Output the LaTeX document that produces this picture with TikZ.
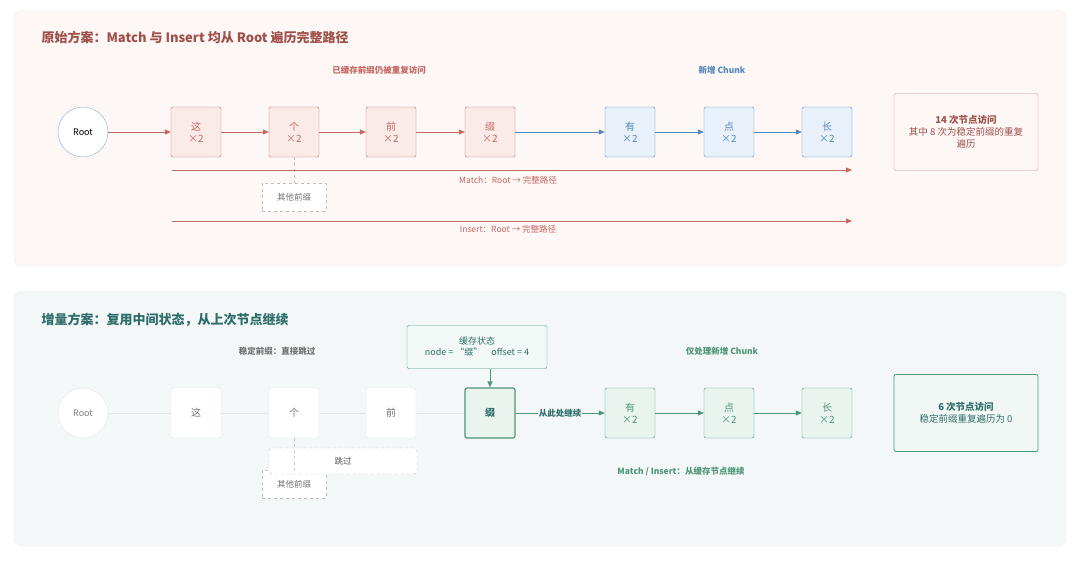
\documentclass[tikz,border=0pt]{standalone}
\usepackage{fontspec}
\setmainfont{Noto Sans CJK SC}
\usepackage{xcolor}
\definecolor{old-red}{RGB}{196,104,98}
\definecolor{old-fill}{RGB}{250,234,232}
\definecolor{old-title}{RGB}{160,80,74}
\definecolor{new-blue}{RGB}{84,136,190}
\definecolor{new-bluefill}{RGB}{232,240,249}
\definecolor{inc-green}{RGB}{78,150,120}
\definecolor{inc-fill}{RGB}{234,244,239}
\definecolor{inc-title}{RGB}{46,110,106}
\definecolor{inc-panel}{RGB}{243,247,248}
\definecolor{faded}{RGB}{222,228,232}
\usetikzlibrary{positioning,arrows.meta}

\tikzset{
	panel/.style={rounded corners=8pt,draw=black!8},
	cell/.style={draw,rounded corners=2pt,minimum width=50pt,minimum height=50pt,
		inner sep=1pt,align=center,font=\fontsize{10}{12}\selectfont},
	oldcell/.style={cell,draw=old-red,fill=old-fill,text=old-red},
	bluecell/.style={cell,draw=new-blue,fill=new-bluefill,text=new-blue},
	greencell/.style={cell,draw=inc-green,fill=inc-fill,text=inc-green},
	fadecell/.style={cell,draw=faded,fill=white,text=black!55},
	tag/.style={font=\fontsize{8.5}{10}\selectfont},
	btag/.style={font=\fontsize{8.5}{10}\selectfont\bfseries},
	dashbox/.style={draw=black!25,dashed,fill=white,tag,text=black!55},
	summary/.style={draw,rounded corners=2pt,minimum width=144pt,minimum height=77pt,
		align=center,font=\fontsize{9.5}{12}\selectfont},
}

\begin{document}
\begin{tikzpicture}[x=1pt,y=-1pt,>={Triangle[length=6pt,width=5pt]}]
	\useasboundingbox (0,0) rectangle (1080,562);
	
	% ===== top panel =====
	\draw[panel,fill=old-fill!40] (14,10) rectangle (1066,266);
	\node[anchor=west,text=old-title,font=\fontsize{13}{15}\selectfont\bfseries] (T1) at (38,38)
	{原始方案：Match 与 Insert 均从 Root 遍历完整路径};
	\node[btag,text=old-red] (L1) at (379,70) {已缓存前缀仍被重复访问};
	\node[btag,text=new-blue] (L2) at (722,70) {新增 Chunk};
	
	\node[circle,draw=new-blue!70,fill=white,minimum size=50pt,font=\fontsize{9}{10}\selectfont] (R1) at (83,132) {Root};
	\node[oldcell] (A1) at (196,132) {这\\×2};
	\node[oldcell] (A2) at (294,132) {个\\×2};
	\node[oldcell] (A3) at (391,132) {前\\×2};
	\node[oldcell] (A4) at (490,132) {缀\\×2};
	\node[bluecell] (A5) at (630,132) {有\\×2};
	\node[bluecell] (A6) at (729,132) {点\\×2};
	\node[bluecell] (A7) at (827,132) {长\\×2};
	
	\draw[->,old-red,thick] (R1) -- (A1);
	\draw[->,old-red,thick] (A1) -- (A2);
	\draw[->,old-red,thick] (A2) -- (A3);
	\draw[->,old-red,thick] (A3) -- (A4);
	\draw[->,new-blue,thick] (A4) -- (A5);
	\draw[->,new-blue,thick] (A5) -- (A6);
	\draw[->,new-blue,thick] (A6) -- (A7);
	
	\node[dashbox,minimum width=64pt,minimum height=28pt] (P1) at (294,197) {其他前缀};
	\draw[black!25,dashed] (A2) -- (P1);
	
	\coordinate (M0) at (172,170);
	\coordinate (M1) at (852,170);
	\draw[->,old-red,thick] (M0) -- (M1);
	\node[tag,text=old-red] (ML) at (508,180) {Match：Root → 完整路径};
	\coordinate (I0) at (172,221);
	\coordinate (I1) at (852,221);
	\draw[->,old-red,thick] (I0) -- (I1);
	\node[tag,text=old-red] (IL) at (508,229) {Insert：Root → 完整路径};
	
	\node[summary,draw=old-red!70,fill=white!60!old-fill,text=old-title] (S1) at (966,132)
	{\textbf{14 次节点访问}\\其中 8 次为稳定前缀的重复\\遍历};
	
	% ===== bottom panel =====
	\draw[panel,fill=inc-panel] (14,291) rectangle (1066,546);
	\node[anchor=west,text=inc-title,font=\fontsize{13}{15}\selectfont\bfseries] (T2) at (38,320)
	{增量方案：复用中间状态，从上次节点继续};
	\node[btag,text=black!55] (L3) at (277,351) {稳定前缀：直接跳过};
	\node[btag,text=inc-green] (L4) at (722,351) {仅处理新增 Chunk};
	
	\node[circle,draw=faded,fill=white,minimum size=50pt,text=black!50,font=\fontsize{9}{10}\selectfont] (R2) at (83,413) {Root};
	\node[fadecell] (B1) at (196,413) {这};
	\node[fadecell] (B2) at (294,413) {个};
	\node[fadecell] (B3) at (391,413) {前};
	\node[greencell,very thick,text=inc-title,font=\fontsize{10}{12}\selectfont\bfseries] (B4) at (490,413) {缀};
	\node[greencell] (B5) at (630,413) {有\\×2};
	\node[greencell] (B6) at (729,413) {点\\×2};
	\node[greencell] (B7) at (827,413) {长\\×2};
	
	\draw[faded] (R2) -- (B1) (B1) -- (B2) (B2) -- (B3) (B3) -- (B4);
	\draw[->,inc-green,thick] (B4) -- node[btag,fill=inc-panel,inner sep=1pt,text=inc-title]{从此处继续} (B5);
	\draw[->,inc-green,thick] (B5) -- (B6);
	\draw[->,inc-green,thick] (B6) -- (B7);
	
	\node[draw=inc-green,fill=inc-fill!60,minimum width=140pt,minimum height=43pt,align=center,
	rounded corners=2pt,font=\fontsize{9}{11}\selectfont,text=inc-title] (C) at (477,347)
	{缓存状态\\node = “缀”\quad offset = 4};
	\draw[->,inc-green,thick] (B4.north |- C.south) -- (B4.north);
	
	\node[dashbox,minimum width=64pt,minimum height=28pt] (P2) at (294,484) {其他前缀};
	\node[dashbox,minimum width=148pt,minimum height=26pt,text=black!65,rounded corners=3pt] (K) at (343,461) {跳过};
	\draw[black!20,dashed] (B2) -- (B2 |- K.south);
	\node[btag,text=inc-green] (L5) at (681,472) {Match / Insert：从缓存节点继续};
	
	\node[summary,draw=inc-green,thick,fill=inc-fill!70,text=inc-title] (S2) at (966,413)
	{\textbf{6 次节点访问}\\稳定前缀重复遍历为 0};
\end{tikzpicture}
\end{document}
